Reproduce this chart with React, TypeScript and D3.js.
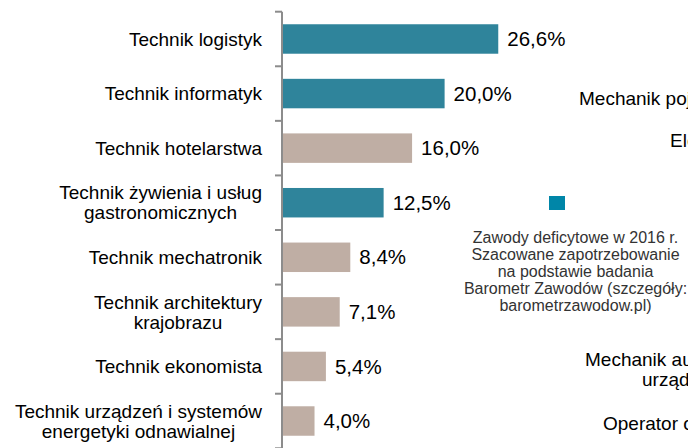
import React, { useEffect, useRef } from "react";
import * as d3 from "d3";

const categories: string[] = [
  "Technik logistyk",
  "Technik informatyk",
  "Technik hotelarstwa",
  "Technik żywienia i usług\ngastronomicznych",
  "Technik mechatronik",
  "Technik architektury\nkrajobrazu",
  "Technik ekonomista",
  "Technik urządzeń i systemów\nenergetyki odnawialnej",
];
const values: number[] = [26.6, 20.0, 16.0, 12.5, 8.4, 7.1, 5.4, 4.0];
const deficit: boolean[] = [true, true, false, true, false, false, false, false];

const captionLines: string[] = [
  "Zawody deficytowe w 2016 r.",
  "Szacowane zapotrzebowanie",
  "na podstawie  badania",
  "Barometr Zawodów (szczegóły:",
  "barometrzawodow.pl)",
];

// clipped labels of the neighbouring chart
const sideLabels: { text: string; x: number; y: number }[] = [
  { text: "Mechanik pojazdów samochodowych", x: 579, y: 105 },
  { text: "Elektryk", x: 670, y: 147 },
  { text: "Mechanik automatyki przemysłowej i", x: 585, y: 366 },
  { text: "urządzeń precyzyjnych", x: 642, y: 386 },
  { text: "Operator obrabiarek skrawających", x: 603, y: 430 },
];

const W = 688;
const H = 448;
const FONT = "'Liberation Sans', Arial, Helvetica, sans-serif";
const TEAL = "#2F849B";
const BEIGE = "#BFAEA4";
const LEGEND = "#0086A8";

export default function App() {
  const ref = useRef<SVGSVGElement | null>(null);

  useEffect(() => {
    const svg = d3.select(ref.current);
    svg.selectAll("*").remove();

    const axisX = 282;
    const y = d3
      .scaleBand<number>()
      .domain(d3.range(categories.length))
      .range([11.7, 448.3])
      .paddingInner(0.46)
      .paddingOuter(0.23);
    const x = d3.scaleLinear().domain([0, 30]).range([axisX, axisX + 243.9]);

    const step = y.step();
    const bandStart = (i: number) => 11.7 + i * step;

    // bars
    svg
      .append("g")
      .selectAll("rect")
      .data(values)
      .join("rect")
      .attr("x", axisX)
      .attr("y", (_, i) => bandStart(i) + step / 2 - y.bandwidth() / 2)
      .attr("width", (d) => x(d) - axisX)
      .attr("height", y.bandwidth())
      .attr("fill", (_, i) => (deficit[i] ? TEAL : BEIGE));

    // axis line and ticks
    const axisG = svg.append("g").attr("stroke", "#8c8c8c").attr("stroke-width", 2);
    axisG
      .append("line")
      .attr("x1", axisX)
      .attr("x2", axisX)
      .attr("y1", 11.7)
      .attr("y2", 448.3);
    d3.range(categories.length + 1).forEach((i) => {
      axisG
        .append("line")
        .attr("x1", axisX - 7)
        .attr("x2", axisX)
        .attr("y1", bandStart(i))
        .attr("y2", bandStart(i));
    });

    // value labels
    svg
      .append("g")
      .selectAll("text")
      .data(values)
      .join("text")
      .attr("x", (d) => x(d) + 9)
      .attr("y", (_, i) => bandStart(i) + step / 2 + 7.2)
      .attr("font-family", FONT)
      .attr("font-size", 20.5)
      .attr("fill", "#000")
      .text((d) => d.toFixed(1).replace(".", ",") + "%");

    // category labels: block right-aligned at 262, lines centered
    const catG = svg.append("g");
    categories.forEach((c, i) => {
      const lines = c.split("\n");
      const cy = bandStart(i) + step / 2;
      const g = catG.append("g");
      const t = g
        .append("text")
        .attr("font-family", FONT)
        .attr("font-size", 19)
        .attr("fill", "#000")
        .attr("text-anchor", "middle");
      const tsp = lines.map((ln, k) =>
        t
          .append("tspan")
          .attr("x", 0)
          .attr("y", cy - (lines.length - 1) * 10 + 6.7 + k * 20)
          .text(ln)
      );
      let maxW = 0;
      tsp.forEach((s) => {
        const node = s.node() as SVGTextContentElement;
        maxW = Math.max(maxW, node.getComputedTextLength());
      });
      g.attr("transform", `translate(${262 - maxW / 2},0)`);
    });

    // legend square
    svg
      .append("rect")
      .attr("x", 549)
      .attr("y", 196)
      .attr("width", 16)
      .attr("height", 14)
      .attr("fill", LEGEND);

    // caption
    const cap = svg
      .append("text")
      .attr("font-family", FONT)
      .attr("font-size", 16)
      .attr("fill", "#333")
      .attr("text-anchor", "middle");
    captionLines.forEach((ln, k) => {
      cap
        .append("tspan")
        .attr("x", 575.5)
        .attr("y", 243.3 + k * 16.8)
        .text(ln);
    });

    // neighbouring chart labels (clipped)
    svg
      .append("g")
      .selectAll("text")
      .data(sideLabels)
      .join("text")
      .attr("x", (d) => d.x)
      .attr("y", (d) => d.y)
      .attr("font-family", FONT)
      .attr("font-size", 19)
      .attr("fill", "#000")
      .text((d) => d.text);
  }, []);

  return (
    <svg
      ref={ref}
      width={W}
      height={H}
      style={{ position: "absolute", left: 0, top: 0, display: "block", overflow: "hidden", background: "#fff" }}
    />
  );
}
